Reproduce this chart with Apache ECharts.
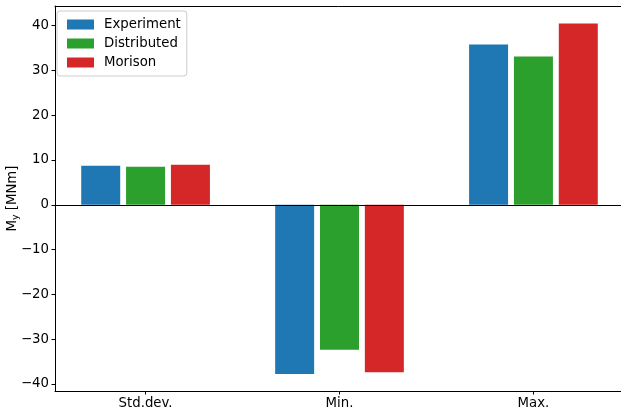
<!DOCTYPE html>
<html>
<head>
<meta charset="utf-8">
<script src="https://cdn.jsdelivr.net/npm/echarts@6/dist/echarts.min.js"></script>
<style>
  html, body { margin: 0; padding: 0; background: #fff; }
  #chart { width: 621px; height: 413px; }
</style>
</head>
<body>
<div id="chart"></div>
<script>
// Bending moment statistics per model
const categories = ['Std.dev.', 'Min.', 'Max.'];
const experiment = [8.7, -37.8, 35.8];
const distributed = [8.5, -32.4, 33.1];
const morison = [8.95, -37.4, 40.5];
const yTicks = [-40, -30, -20, -10, 0, 10, 20, 30, 40];
const xTicks = [0, 1, 2];

const FONT = 'DejaVu Sans';
const FS = 13.3;
const minus = v => String(v).replace('-', '\u2212');
const X_MIN = -0.467, X_MAX = 2.467;

const chart = echarts.init(document.getElementById('chart'), null, { renderer: 'canvas' });

function barSeries(name, values, color, extra) {
  return Object.assign({
    name: name,
    type: 'bar',
    data: values.map((v, i) => [i, v]),
    barWidth: 39,
    barGap: '15%',
    itemStyle: { color: color },
    emphasis: { disabled: true }
  }, extra || {});
}

chart.setOption({
  animation: false,
  backgroundColor: '#fff',
  grid: {
    left: 55, top: 6, bottom: 22, right: -3,
    containLabel: false,
    outerBoundsMode: 'none',
    show: false
  },
  legend: {
    left: 57, top: 11,
    orient: 'vertical',
    itemWidth: 27, itemHeight: 10, itemGap: 6,
    padding: [7, 6, 7, 10],
    borderColor: '#cccccc', borderWidth: 1, borderRadius: 3,
    backgroundColor: 'rgba(255,255,255,0.8)',
    icon: 'rect',
    textStyle: { fontFamily: FONT, fontSize: FS, color: '#000', padding: [0, 0, 0, 5] },
    data: ['Experiment', 'Distributed', 'Morison']
  },
  xAxis: [{
    type: 'value',
    min: X_MIN, max: X_MAX,
    axisLine: { show: true, onZero: false, lineStyle: { color: '#000', width: 1 } },
    axisTick: { show: true, length: 3.5, customValues: xTicks, lineStyle: { color: '#000' } },
    axisLabel: {
      fontFamily: FONT, fontSize: FS, color: '#000', margin: 6,
      customValues: xTicks,
      formatter: v => categories[Math.round(v)]
    },
    splitLine: { show: false }
  }, {
    type: 'value',
    position: 'top',
    min: X_MIN, max: X_MAX,
    axisLine: { show: true, onZero: false, lineStyle: { color: '#000', width: 1 } },
    axisTick: { show: false },
    axisLabel: { show: false },
    splitLine: { show: false }
  }],
  yAxis: {
    type: 'value',
    min: -41.6, max: 44.4,
    name: '{m|M}{s|y}{m| [MNm]}',
    nameLocation: 'middle',
    nameGap: 35,
    nameMoveOverlap: false,
    nameRotate: 90,
    nameTextStyle: {
      rich: {
        m: { fontFamily: FONT, fontSize: FS, color: '#000' },
        s: { fontFamily: FONT, fontSize: 9.3, color: '#000', padding: [6, 0, 0, 0] }
      }
    },
    axisLine: { show: true, onZero: false, lineStyle: { color: '#000', width: 1 } },
    axisTick: { show: true, length: 3.5, customValues: yTicks, lineStyle: { color: '#000' } },
    axisLabel: {
      fontFamily: FONT, fontSize: FS, color: '#000', margin: 6,
      customValues: yTicks,
      formatter: v => minus(v)
    },
    splitLine: { show: false }
  },
  series: [
    barSeries('Experiment', experiment, '#1f77b4', {
      markLine: {
        silent: true, symbol: 'none',
        label: { show: false },
        lineStyle: { color: '#000', width: 1, type: 'solid' },
        data: [{ yAxis: 0 }]
      }
    }),
    barSeries('Distributed', distributed, '#2ca02c'),
    barSeries('Morison', morison, '#d62728')
  ]
});
</script>
</body>
</html>
